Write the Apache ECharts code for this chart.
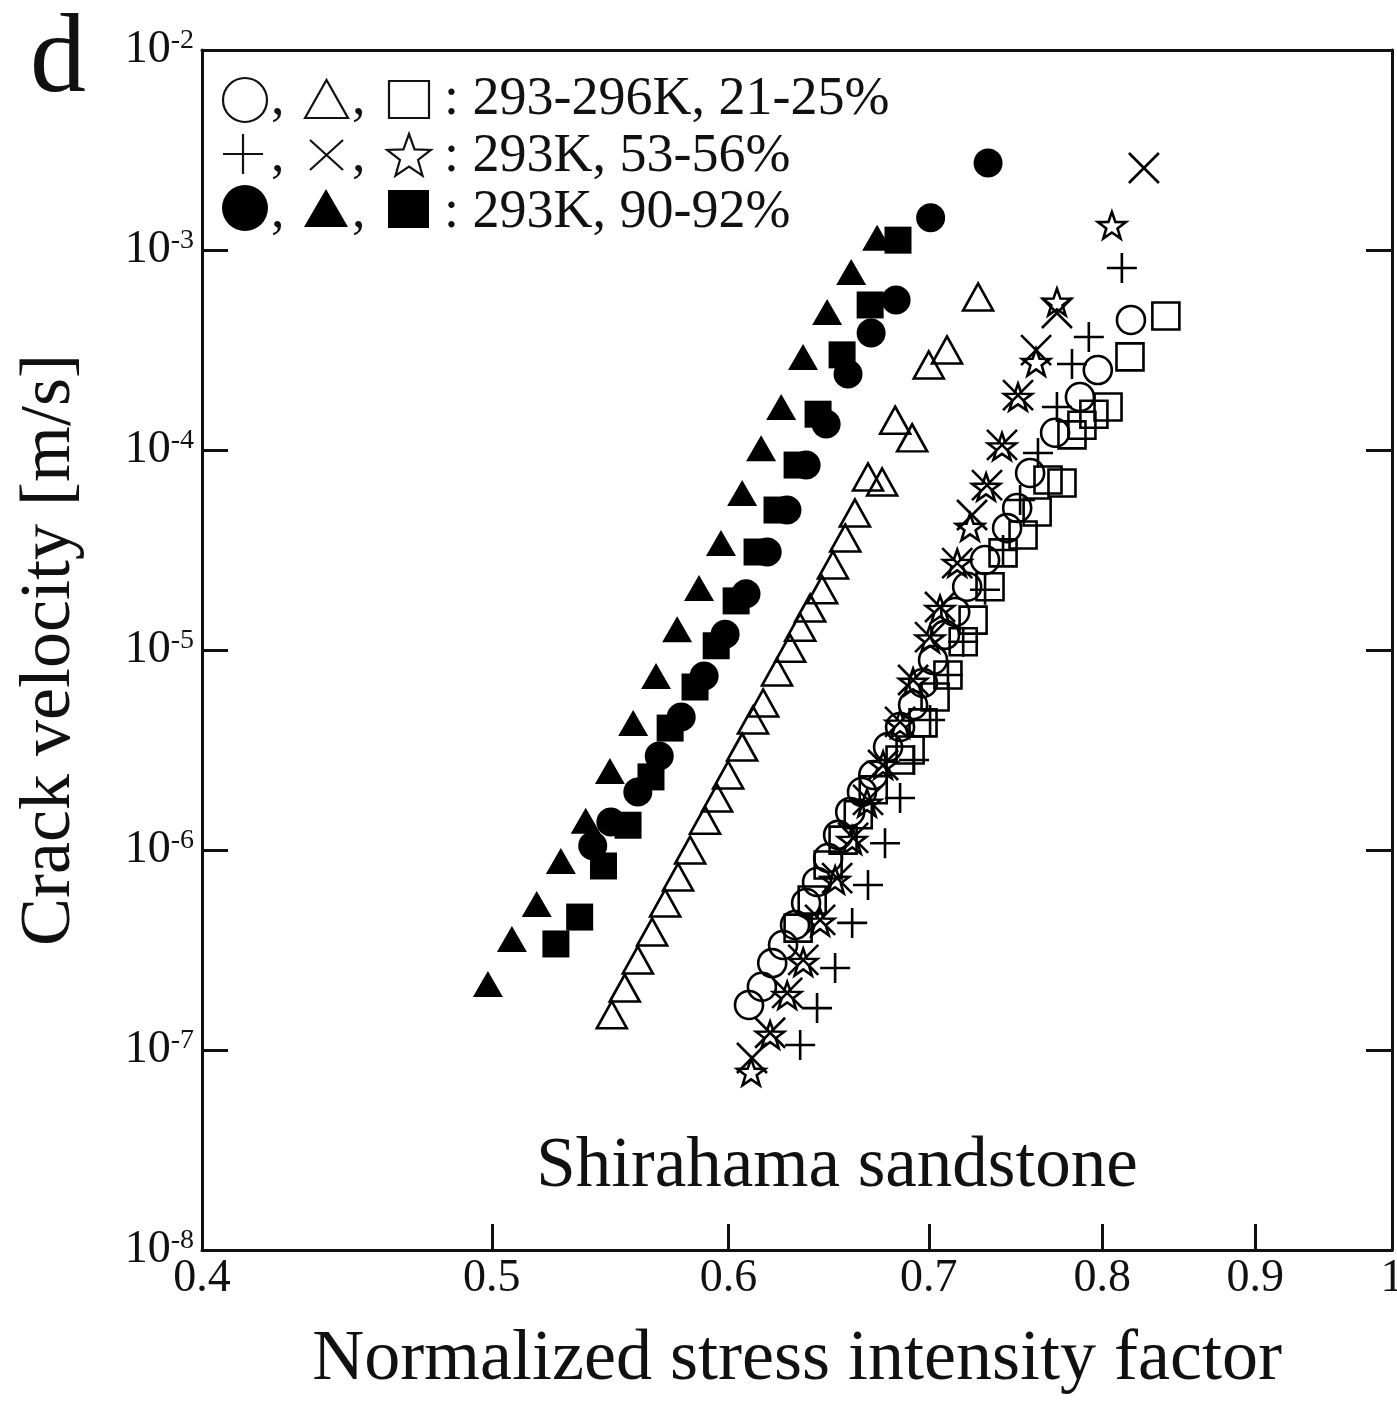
<!DOCTYPE html>
<html><head><meta charset="utf-8">
<script src="https://cdn.jsdelivr.net/npm/echarts@6/dist/echarts.min.js"></script>
<style>html,body{margin:0;padding:0;background:#fff}#c{width:1397px;height:1401px}</style>
</head><body><div id="c"></div>
<script>
// ---------------- data ----------------
const xTickValues = [0.4, 0.5, 0.6, 0.7, 0.8, 0.9, 1];
const yTickExponents = [-8, -7, -6, -5, -4, -3, -2];
const xTitle = 'Normalized stress intensity factor';
const yTitle = 'Crack velocity [m/s]';
const sampleLabel = 'Shirahama sandstone';
const panelLabel = 'd';
const legendTexts = [': 293-296K, 21-25%', ': 293K, 53-56%', ': 293K, 90-92%'];

// 293-296K, 21-25%
const openCircles = [[0.6095,1.68e-7],[0.6156,2.07e-7],[0.6205,2.72e-7],[0.6257,3.35e-7],[0.6315,4.22e-7],[0.6369,5.43e-7],[0.6423,6.92e-7],[0.6478,9.12e-7],[0.6528,1.19e-6],[0.6589,1.55e-6],[0.6649,1.95e-6],[0.6707,2.37e-6],[0.6784,3.27e-6],[0.6847,4.12e-6],[0.6916,5.31e-6],[0.6969,6.84e-6],[0.7023,8.91e-6],[0.7088,1.19e-5],[0.7144,1.55e-5],[0.7210,2.07e-5],[0.7310,2.82e-5],[0.7435,4.07e-5],[0.7493,5.13e-5],[0.7568,7.67e-5],[0.7715,1.22e-4],[0.7864,1.84e-4],[0.7973,2.51e-4],[0.8179,4.47e-4]];
const openTriangles = [[0.5484,1.50e-7],[0.5539,2.04e-7],[0.5595,2.82e-7],[0.5657,3.89e-7],[0.5714,5.43e-7],[0.5771,7.33e-7],[0.5825,1.00e-6],[0.5892,1.41e-6],[0.5947,1.82e-6],[0.5998,2.37e-6],[0.6063,3.27e-6],[0.6114,4.47e-6],[0.6162,5.43e-6],[0.6228,7.76e-6],[0.6291,1.02e-5],[0.6340,1.30e-5],[0.6389,1.62e-5],[0.6448,2.00e-5],[0.6502,2.66e-5],[0.6564,3.63e-5],[0.6613,4.84e-5],[0.6680,7.33e-5],[0.6753,6.92e-5],[0.6821,1.41e-4],[0.6911,1.15e-4],[0.7000,2.66e-4],[0.7099,3.16e-4],[0.7271,5.82e-4]];
const openSquares = [[0.6330,4.07e-7],[0.6399,5.62e-7],[0.6478,8.41e-7],[0.6553,1.12e-6],[0.6630,1.50e-6],[0.6707,2.00e-6],[0.6847,2.82e-6],[0.6900,3.16e-6],[0.6969,4.32e-6],[0.7034,5.82e-6],[0.7104,7.50e-6],[0.7188,1.10e-5],[0.7243,1.41e-5],[0.7338,2.07e-5],[0.7412,3.06e-5],[0.7527,3.76e-5],[0.7609,4.90e-5],[0.7673,7.08e-5],[0.7756,6.84e-5],[0.7816,1.19e-4],[0.7876,1.33e-4],[0.7949,1.51e-4],[0.8036,1.64e-4],[0.8173,2.92e-4],[0.8402,4.68e-4]];
// 293K, 53-56%
const plusPts = [[0.6340,1.06e-7],[0.6423,1.62e-7],[0.6513,2.57e-7],[0.6599,4.32e-7],[0.6680,6.68e-7],[0.6768,1.08e-6],[0.6847,1.82e-6],[0.6921,2.82e-6],[0.7007,4.47e-6],[0.7104,7.50e-6],[0.7188,1.10e-5],[0.7310,2.00e-5],[0.7412,3.16e-5],[0.7510,5.62e-5],[0.7614,9.66e-5],[0.7726,1.64e-4],[0.7816,2.69e-4],[0.7918,3.67e-4],[0.8122,8.13e-4]];
const crossPts = [[0.6109,9.12e-8],[0.6195,1.22e-7],[0.6277,1.93e-7],[0.6355,2.82e-7],[0.6438,4.47e-7],[0.6523,7.24e-7],[0.6604,1.15e-6],[0.6680,1.78e-6],[0.6758,2.66e-6],[0.6847,4.37e-6],[0.6916,7.08e-6],[0.7007,1.16e-5],[0.7061,1.64e-5],[0.7155,2.72e-5],[0.7237,4.73e-5],[0.7321,6.68e-5],[0.7406,1.06e-4],[0.7498,1.88e-4],[0.7603,3.16e-4],[0.7726,4.84e-4],[0.8261,2.57e-3]];
const starPts = [[0.6105,7.76e-8],[0.6195,1.19e-7],[0.6277,1.88e-7],[0.6355,2.75e-7],[0.6438,4.37e-7],[0.6513,7.08e-7],[0.6599,1.12e-6],[0.6675,1.72e-6],[0.6758,2.66e-6],[0.6847,4.27e-6],[0.6916,6.92e-6],[0.7007,1.14e-5],[0.7061,1.60e-5],[0.7155,2.72e-5],[0.7226,4.12e-5],[0.7316,6.53e-5],[0.7406,1.04e-4],[0.7498,1.84e-4],[0.7603,2.75e-4],[0.7726,5.50e-4],[0.8060,1.33e-3]];
// 293K, 90-92%
const filledCircles = [[0.5404,1.05e-6],[0.5480,1.38e-6],[0.5595,1.95e-6],[0.5688,2.95e-6],[0.5785,4.62e-6],[0.5888,7.41e-6],[0.5984,1.20e-5],[0.6081,1.91e-5],[0.6181,3.09e-5],[0.6276,5.01e-5],[0.6369,8.41e-5],[0.6468,1.35e-4],[0.6578,2.40e-4],[0.6696,3.85e-4],[0.6826,5.62e-4],[0.7010,1.45e-3],[0.7327,2.72e-3]];
const filledTriangles = [[0.4985,2.14e-7],[0.5078,3.59e-7],[0.5176,5.37e-7],[0.5273,8.81e-7],[0.5375,1.40e-6],[0.5476,2.48e-6],[0.5575,4.32e-6],[0.5674,7.41e-6],[0.5767,1.27e-5],[0.5865,2.04e-5],[0.5965,3.43e-5],[0.6063,6.10e-5],[0.6152,1.02e-4],[0.6248,1.64e-4],[0.6354,2.92e-4],[0.6473,4.90e-4],[0.6594,7.76e-4],[0.6727,1.15e-3]];
const filledSquares = [[0.5253,3.39e-7],[0.5350,4.62e-7],[0.5449,8.32e-7],[0.5553,1.33e-6],[0.5652,2.32e-6],[0.5736,4.07e-6],[0.5847,6.53e-6],[0.5943,1.05e-5],[0.6035,1.76e-5],[0.6133,3.09e-5],[0.6228,5.01e-5],[0.6325,8.41e-5],[0.6428,1.51e-4],[0.6548,2.99e-4],[0.6691,5.31e-4],[0.6836,1.12e-3]];

// ---------------- chart ----------------
const FONT = '"Liberation Serif", "Times New Roman", serif';
const INK = '#111';
const L10 = Math.log10;
const toXY = arr => arr.map(p => [L10(p[0]), p[1]]);

const PLUS = 'path://M50,0L50,100M0,50L100,50';
const CROSS = 'path://M0,0L100,100M100,0L0,100';
const STAR = 'path://M50,0L61.76,33.82L97.55,34.55L69.02,56.18L79.39,90.45L50,70L20.61,90.45L30.98,56.18L2.45,34.55L38.24,33.82Z';

function sc(name, data, symbol, size, filled) {
  return {
    type: 'scatter', name, data: toXY(data), symbol, symbolSize: size, symbolKeepAspect: true,
    itemStyle: filled ? {color: '#000', borderWidth: 0, opacity: 1}
                      : {color: 'rgba(0,0,0,0)', borderColor: '#000', borderWidth: 2.6, opacity: 1},
    emphasis: {disabled: true}, silent: true, animation: false
  };
}

const chart = echarts.init(document.getElementById('c'), null, {renderer: 'canvas'});

const tickStyle = {color: INK, width: 3};
const lineStyle = {color: INK, width: 3};

// legend graphic helpers (legend box, not data)
function starPoints(cx, cy, R, r) {
  const pts = [];
  for (let i = 0; i < 10; i++) {
    const a = -Math.PI / 2 + i * Math.PI / 5;
    const rad = i % 2 === 0 ? R : r;
    pts.push([cx + rad * Math.cos(a), cy + rad * Math.sin(a)]);
  }
  return pts;
}
const lg = [];
const thin = {stroke: INK, lineWidth: 2.2, fill: 'none'};
const rowY = [100, 156, 211];
const rowText = [100, 157, 213];
const LF = '54px ' + FONT;
// row 1 open
lg.push({type: 'circle', shape: {cx: 245, cy: rowY[0], r: 22}, style: thin});
lg.push({type: 'polygon', shape: {points: [[305, rowY[0] + 18], [326.5, rowY[0] - 20], [348, rowY[0] + 18]]}, style: thin});
lg.push({type: 'rect', shape: {x: 389, y: rowY[0] - 19, width: 40, height: 37}, style: thin});
// row 2
lg.push({type: 'polyline', shape: {points: [[223, rowY[1] - 2], [263, rowY[1] - 2]]}, style: thin});
lg.push({type: 'polyline', shape: {points: [[243, rowY[1] - 22], [243, rowY[1] + 18]]}, style: thin});
lg.push({type: 'polyline', shape: {points: [[310, rowY[1] - 16], [343, rowY[1] + 14]]}, style: thin});
lg.push({type: 'polyline', shape: {points: [[343, rowY[1] - 16], [310, rowY[1] + 14]]}, style: thin});
lg.push({type: 'polygon', shape: {points: starPoints(409, rowY[1] + 1, 23, 9.5)}, style: thin});
// row 3 filled
lg.push({type: 'circle', shape: {cx: 245, cy: rowY[2] - 3, r: 23}, style: {fill: '#000'}});
lg.push({type: 'polygon', shape: {points: [[304, rowY[2] + 16], [326, rowY[2] - 22], [348, rowY[2] + 16]]}, style: {fill: '#000'}});
lg.push({type: 'rect', shape: {x: 388, y: rowY[2] - 21, width: 41, height: 38}, style: {fill: '#000'}});
for (let i = 0; i < 3; i++) {
  lg.push({type: 'text', x: 271, y: rowText[i], style: {text: ',', font: LF, fill: INK, textAlign: 'left', textVerticalAlign: 'middle'}});
  lg.push({type: 'text', x: 352, y: rowText[i], style: {text: ',', font: LF, fill: INK, textAlign: 'left', textVerticalAlign: 'middle'}});
  lg.push({type: 'text', x: 444, y: rowText[i], style: {text: legendTexts[i], font: LF, fill: INK, textAlign: 'left', textVerticalAlign: 'middle'}});
}
lg.push({type: 'text', x: 30, y: 62, style: {text: panelLabel, font: '112px ' + FONT, fill: INK, textAlign: 'left', textVerticalAlign: 'middle'}});
lg.push({type: 'text', x: 837, y: 1167, style: {text: sampleLabel, font: '71px ' + FONT, fill: INK, textAlign: 'center', textVerticalAlign: 'middle'}});

const option = {
  backgroundColor: '#fff',
  animation: false,
  grid: {left: 202, top: 50, width: 1190, height: 1200, containLabel: false, outerBoundsMode: 'none', show: false},
  xAxis: [{
    type: 'value', min: L10(0.4), max: 0, position: 'bottom',
    axisLine: {show: true, onZero: false, lineStyle},
    axisTick: {show: true, inside: true, length: 26, lineStyle: tickStyle, customValues: xTickValues.map(L10)},
    axisLabel: {show: true, customValues: xTickValues.map(L10), margin: 6, hideOverlap: false,
      formatter: v => String(Number(Math.pow(10, v).toFixed(2))),
      fontFamily: FONT, fontSize: 46, color: INK},
    splitLine: {show: false},
    name: xTitle, nameLocation: 'middle', nameGap: 74, nameMoveOverlap: false,
    nameTextStyle: {fontFamily: FONT, fontSize: 72, color: INK}
  }, {
    type: 'value', min: L10(0.4), max: 0, position: 'top',
    axisLine: {show: true, onZero: false, lineStyle},
    axisTick: {show: false},
    axisLabel: {show: false}, splitLine: {show: false}
  }],
  yAxis: [{
    type: 'log', logBase: 10, min: yMin(), max: yMax(), position: 'left',
    axisLine: {show: true, onZero: false, lineStyle},
    axisTick: {show: true, inside: true, length: 26, lineStyle: tickStyle},
    minorTick: {show: false},
    axisLabel: {show: true, margin: 8, hideOverlap: false,
      formatter: v => '{b|10}{s|' + Math.round(L10(v)) + '}',
      rich: {b: {fontFamily: FONT, fontSize: 46, color: INK}, s: {fontFamily: FONT, fontSize: 28, color: INK, verticalAlign: 'top'}}},
    splitLine: {show: false},
    name: yTitle, nameLocation: 'middle', nameGap: 116, nameMoveOverlap: false,
    nameTextStyle: {fontFamily: FONT, fontSize: 72, color: INK}
  }, {
    type: 'log', logBase: 10, min: yMin(), max: yMax(), position: 'right',
    axisLine: {show: true, onZero: false, lineStyle},
    axisTick: {show: true, inside: true, length: 26, lineStyle: tickStyle},
    axisLabel: {show: false}, splitLine: {show: false}
  }],
  graphic: lg,
  series: [
    sc('open circle', openCircles, 'circle', 28, false),
    sc('open triangle', openTriangles, 'triangle', [30, 27], false),
    sc('open square', openSquares, 'rect', 27, false),
    sc('plus', plusPts, PLUS, 30, false),
    sc('cross', crossPts, CROSS, 30, false),
    sc('star', starPts, STAR, 28, false),
    sc('filled circle', filledCircles, 'circle', 29, true),
    sc('filled triangle', filledTriangles, 'triangle', [30, 26], true),
    sc('filled square', filledSquares, 'rect', 27, true)
  ]
};
function yMin() { return Math.pow(10, yTickExponents[0]); }
function yMax() { return Math.pow(10, yTickExponents[yTickExponents.length - 1]); }
chart.setOption(option);
</script>
</body></html>
